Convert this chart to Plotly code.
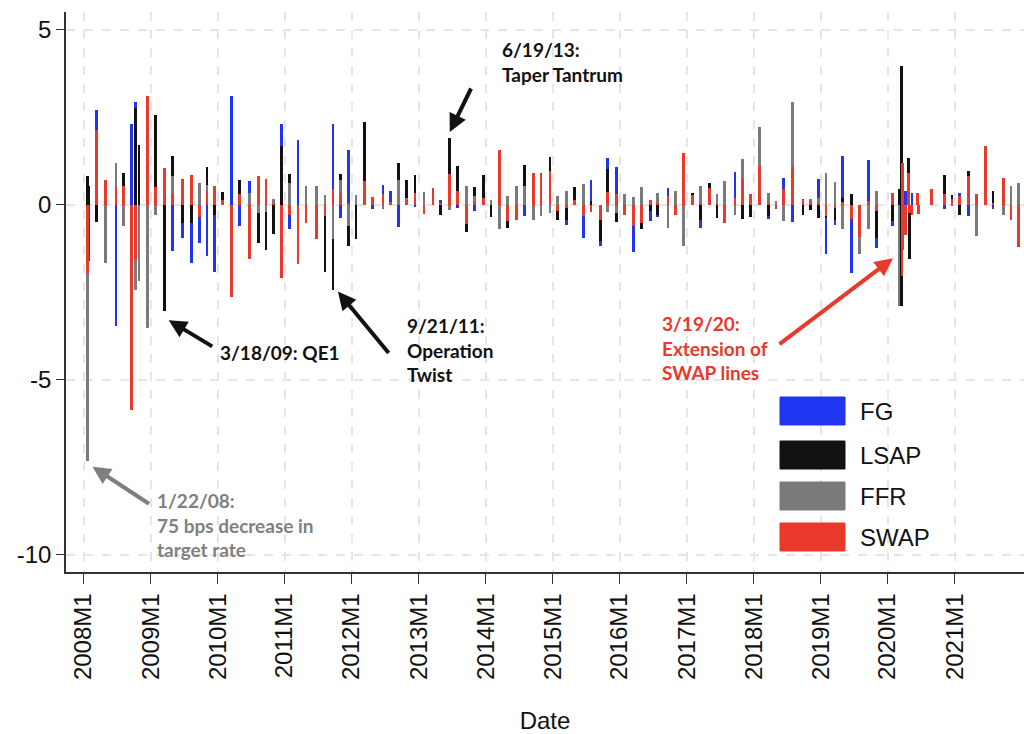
import plotly.graph_objects as go

# ---------------- data ----------------
dates = [
    "2008-01-22", "2008-01-30", "2008-03-11", "2008-04-30", "2008-06-25", "2008-08-05",
    "2008-09-16", "2008-10-08", "2008-10-29", "2008-12-16",
    "2009-01-28", "2009-03-18", "2009-04-29", "2009-06-24", "2009-08-12", "2009-09-23",
    "2009-11-04", "2009-12-16",
    "2010-01-27", "2010-03-16", "2010-04-28", "2010-06-23", "2010-08-10", "2010-09-21",
    "2010-11-03", "2010-12-14",
    "2011-01-26", "2011-03-15", "2011-04-27", "2011-06-22", "2011-08-09", "2011-09-21",
    "2011-11-02", "2011-12-13",
    "2012-01-25", "2012-03-13", "2012-04-25", "2012-06-20", "2012-08-01", "2012-09-13",
    "2012-10-24", "2012-12-12",
    "2013-01-30", "2013-03-20", "2013-05-01", "2013-06-19", "2013-07-31", "2013-09-18",
    "2013-10-30", "2013-12-18",
    "2014-01-29", "2014-03-19", "2014-04-30", "2014-06-18", "2014-07-30", "2014-09-17",
    "2014-10-29", "2014-12-17",
    "2015-01-28", "2015-03-18", "2015-04-29", "2015-06-17", "2015-07-29", "2015-09-17",
    "2015-10-28", "2015-12-16",
    "2016-01-27", "2016-03-16", "2016-04-27", "2016-06-15", "2016-07-27", "2016-09-21",
    "2016-11-02", "2016-12-14",
    "2017-02-01", "2017-03-15", "2017-05-03", "2017-06-14", "2017-07-26", "2017-09-20",
    "2017-11-01", "2017-12-13",
    "2018-01-31", "2018-03-21", "2018-05-02", "2018-06-13", "2018-08-01", "2018-09-26",
    "2018-11-08", "2018-12-19",
    "2019-01-30", "2019-03-20", "2019-05-01", "2019-06-19", "2019-07-31", "2019-09-18",
    "2019-10-30",
    "2020-01-29", "2020-03-03", "2020-03-15", "2020-03-17", "2020-03-19", "2020-03-20",
    "2020-03-23", "2020-04-09", "2020-04-23", "2020-04-29", "2020-05-13", "2020-06-10",
    "2020-06-15", "2020-08-27", "2020-11-05", "2020-12-16",
    "2021-01-27", "2021-03-17", "2021-04-28", "2021-06-16", "2021-07-28", "2021-09-22",
    "2021-11-03", "2021-12-15",
]

fg = [
    0, -1.62, 2.70, 0, -3.48, 0,
    2.29, 2.92, 0, 0,
    0, 0, -1.33, -0.95, -1.67, -1.10,
    -1.48, -1.93,
    0, 3.10, -0.60, 0.67, 0, 0,
    0, 2.29,
    -0.70, 1.83, 0, 0, 0, 2.31,
    -0.38, 1.57,
    0, 0.05, -0.12, 0.57, 0.38, -0.64,
    0, -0.08,
    0, 0, 0.14, 0, -0.11, 0,
    -0.19, 0,
    0, 0, 0, -0.30, -0.33, 0,
    0, 0,
    0, -0.59, 0, -0.95, 0.70, -1.19,
    1.33, 1.08,
    0, -1.36, 0, -0.48, -0.36, 0.48,
    0, 0,
    0, -0.67, 0, 0, 0, 0.92,
    0, 0,
    0, -0.41, 0, 0.76, -0.50, 0.17,
    0, 0.74,
    -1.40, -0.59, 1.40, -1.97, 0, 1.27,
    -1.24,
    -0.62, 0, 0, 0, 0, 0,
    0, 0.38, 0, 0, 0.33, 0,
    0, 0, -0.14, 0,
    0.33, -0.33, 0, 0, -0.12, 0,
    -0.45, 0,
]

lsap = [
    0.81, 0.54, -0.50, 0, 0, 0.90,
    0, 2.76, 1.71, 0,
    2.57, -3.05, 1.38, -0.54, -0.54, 0,
    1.08, -0.31,
    0.35, 0, 0.71, 0, -1.11, -1.29,
    -0.83, 1.67,
    0.86, 0, 0, 0, -1.93, -2.43,
    0.86, -1.19,
    -0.98, 2.35, 0, 0, 0, 1.19,
    0.71, 0.84,
    0, 0, -0.29, 1.90, 1.11, -0.78,
    0.50, 0.84,
    -0.35, 0, -0.67, 0, 1.14, 0,
    0, 1.35,
    -0.45, -0.45, 0.50, 0, 0.10, -1.05,
    1.02, -0.50,
    0, 0, -0.69, -0.19, -0.29, 0,
    0, 0,
    0.32, -0.43, 0.62, -0.38, 0, 0,
    -0.41, -0.35,
    0, -0.33, 0, 0, 0, -0.29,
    -0.16, -0.38,
    -0.38, -0.43, 0.19, 0.29, 0, 0,
    -0.95,
    -0.48, 0.43, 3.97, -2.90, 0, 0,
    0, 0, 1.33, -1.57, 0, 0.10,
    0, 0, 0.83, 0.26,
    -0.31, 0.95, 0, 0, 0.38, 0,
    0, 0,
]

ffr = [
    -7.32, 0, 0, -1.67, 1.19, -0.62,
    0, -2.43, -2.19, -3.52,
    -0.29, 0, 0.81, 0, 0, 0.62,
    0.57, 0,
    0, 0, 0, 0.33, -0.24, -0.20,
    0.17, 0,
    0.62, 0, 0.52, 0.54, 0.26, -0.98,
    0.70, -0.62,
    0.26, 0, 0, -0.14, 0, 0.71,
    0.20, 0,
    0.35, 0, 0, -0.17, 0, 0.52,
    0.24, 0,
    0.12, -0.71, 0.24, 0.54, 0.52, -0.45,
    -0.33, -0.24,
    0.24, 0.40, 0, 0.59, 0, 0,
    -0.22, -0.24,
    0.30, 0.22, 0.50, 0, 0.33, -0.67,
    0.40, -1.19,
    0, 0.52, 0, 0.29, 0.67, -0.31,
    1.29, 0,
    2.21, 0.33, 0.10, -0.48, 2.92, 0,
    0.16, 0.19,
    0.89, 0.64, -0.71, 0, -1.40, -0.70,
    0.38,
    0, -2.90, 0, 0, 0, 0,
    0, 0, 0, 0, 0, 0,
    0, 0.20, 0, -0.05,
    0, 0, -0.89, 0, 0, -0.29,
    0.54, 0.62,
]

swap = [
    -1.95, 0, 2.14, 0.69, 0.50, 0.52,
    -5.86, -1.57, 0, 3.11,
    0.50, 1.05, 0.29, 0.73, 0.83, -0.35,
    0.38, 0.54,
    0.12, -2.64, 0.29, -1.57, 0.81, 0.73,
    0.05, -2.10,
    -0.29, -1.70, -0.52, -0.98, -0.33, 0.45,
    0.33, 0.03,
    0, 0.67, 0.22, 0.31, 0.07, 0,
    0.14, 0.33,
    -0.27, 0.47, 0.05, 0.88, 0.38, -0.57,
    0.10, 0.19,
    0, 1.55, -0.48, -0.43, 0, 0.89,
    0.90, 0.95,
    -0.19, -0.10, 0.14, -0.33, -0.22, -0.43,
    0.35, 0.29,
    -0.31, -0.62, -0.54, 0.14, 0.04, 0.24,
    -0.29, 1.46,
    0.28, 0.04, 0.48, 0.04, -0.54, 0.19,
    0.73, 0.29,
    1.11, 0.04, -0.12, 0.43, 1.10, 0.12,
    0.08, 0.04,
    -0.33, -0.10, 0.07, -0.41, -0.92, 0.10,
    -0.19,
    0.33, 0, 0, 0, -2.05, 1.19,
    -1.29, -0.86, 0.90, -0.24, -0.29, 0.33,
    -0.26, 0.45, 0.29, 0.16,
    0.24, 0.81, 0.29, 1.67, 0.05, 0.76,
    -0.43, -1.21,
]

series_names = ["FG", "LSAP", "FFR", "SWAP"]
series_vals = [fg, lsap, ffr, swap]
colors = ["#1f35f2", "#111111", "#7a7a7a", "#e8392b"]

year_ticks = [f"{y}-01-01" for y in range(2008, 2022)]
year_labels = [f"{y}M1" for y in range(2008, 2022)]

# ---------------- figure ----------------
W, H = 1024, 734
ML, MR, MT, MB = 66, 0, 12, 162
PW, PH = W - ML - MR, H - MT - MB

def px(x):
    return (x - ML) / PW

def py(y):
    return (H - MB - y) / PH

bar_w = 15 * 86400000

fig = go.Figure()
for name, vals, col in zip(series_names, series_vals, colors):
    fig.add_trace(go.Bar(
        x=dates, y=vals, name=name, width=bar_w,
        marker=dict(color=col, line=dict(width=0)),
        showlegend=False,
    ))

grid = dict(showgrid=True, gridcolor="#e6e6e6", gridwidth=2, griddash="dash")
font_ax = "Liberation Sans, Arial, sans-serif"

fig.update_layout(
    width=W, height=H,
    margin=dict(l=ML, r=MR, t=MT, b=MB, autoexpand=False),
    paper_bgcolor="white", plot_bgcolor="white",
    barmode="overlay",
    bargap=0,
    xaxis=dict(
        type="date", range=["2007-09-27", "2022-01-13"],
        tickvals=year_ticks, ticktext=year_labels, tickangle=-90,
        tickfont=dict(family=font_ax, size=24, color="#111111"),
        ticks="outside", ticklen=10, tickcolor="#333333",
        showline=True, linecolor="#333333", linewidth=1.5,
        zeroline=False, automargin=False,
        title=dict(text="Date", font=dict(family=font_ax, size=24, color="#111111"), standoff=40),
        **grid,
    ),
    yaxis=dict(
        range=[-10.5, 5.5],
        tickvals=[5, 0, -5, -10], ticktext=["5", "0", "-5", "-10"],
        tickfont=dict(family=font_ax, size=24, color="#111111"),
        ticks="outside", ticklen=8, tickcolor="#333333",
        showline=True, linecolor="#333333", linewidth=1.5,
        zeroline=False, automargin=False,
        **grid,
    ),
)

# ---------------- legend (drawn as swatches) ----------------
leg_rows = [411, 455, 496, 537]
for name, col, yc in zip(series_names, colors, leg_rows):
    fig.add_shape(type="rect", xref="paper", yref="paper",
                  x0=px(780), x1=px(845), y0=py(yc + 14), y1=py(yc - 14),
                  fillcolor=col, line=dict(color=col, width=1), layer="above")
    fig.add_annotation(xref="paper", yref="paper", x=px(858), y=py(yc),
                       text=name, showarrow=False, xanchor="left", yanchor="middle",
                       font=dict(family=font_ax, size=24, color="#111111"))

# ---------------- event annotations ----------------
afont = "Lato, Open Sans, sans-serif"

def idx(d):
    return dates.index(d)

arrows = [
    # (date, value, xshift, yshift, ax, ay, color)
    ("2013-06-19", lsap[idx("2013-06-19")], 0, 6, 22, -45, "#111111"),
    ("2009-03-18", lsap[idx("2009-03-18")], 4, -9, 45, 27, "#111111"),
    ("2011-09-21", lsap[idx("2011-09-21")], 5, -2, 52, 63, "#111111"),
    ("2020-03-19", swap[idx("2020-03-19")], -9, 18, -115, 87, "#e8392b"),
    ("2008-01-22", ffr[idx("2008-01-22")], 5, -6, 58, 38, "#7f7f7f"),
]
for d, v, xs, ys, ax, ay, col in arrows:
    fig.add_annotation(x=d, y=v, xref="x", yref="y", text="", showarrow=True,
                       xshift=xs, yshift=ys, ax=ax, ay=ay,
                       arrowhead=2, arrowsize=0.9, arrowwidth=4, arrowcolor=col)

labels = [
    ("6/19/13:<br>Taper Tantrum", 500, 62, "#111111"),
    ("3/18/09: QE1", 218, 352, "#111111"),
    ("9/21/11:<br>Operation<br>Twist", 405, 350, "#111111"),
    ("3/19/20:<br>Extension of<br>SWAP lines", 660, 348, "#e8392b"),
    ("1/22/08:<br>75 bps decrease in<br>target rate", 155, 525, "#808080"),
]
for t, x, y, col in labels:
    fig.add_annotation(xref="paper", yref="paper", x=px(x), y=py(y), text=t,
                       showarrow=False, xanchor="left", yanchor="middle", align="left",
                       font=dict(family=afont, size=19, color=col, weight="bold"))

# remove the browser's default 8px body margin so the figure sits at the page origin
fig.write_html("out.html", config={"displayModeBar": False},
               post_script="document.body.style.margin='0px';")
